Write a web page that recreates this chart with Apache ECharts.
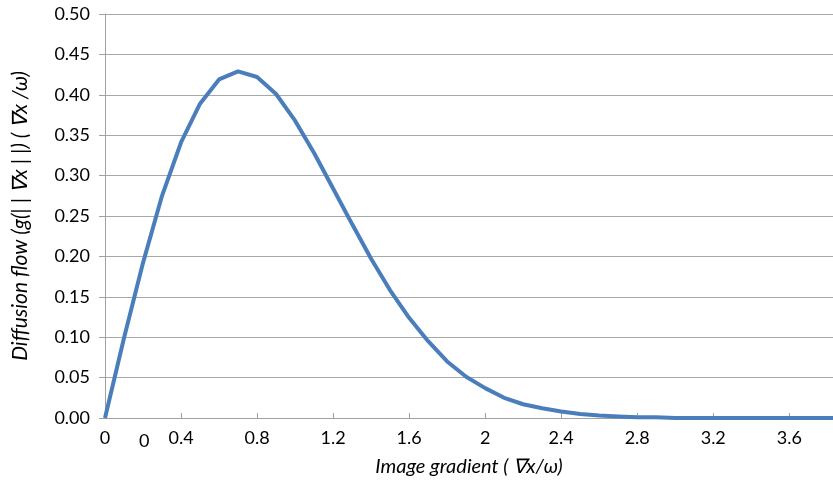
<!DOCTYPE html>
<html>
<head>
<meta charset="utf-8">
<script src="https://cdn.jsdelivr.net/npm/echarts@6/dist/echarts.min.js"></script>
<style>html,body{margin:0;padding:0;background:#fff}#c{width:833px;height:485px}</style>
</head>
<body>
<div id="c"></div>
<script>
const gradient = [0,0.1,0.2,0.3,0.4,0.5,0.6,0.7,0.8,0.9,1.0,1.1,1.2,1.3,1.4,1.5,1.6,1.7,1.8,1.9,2.0,2.1,2.2,2.3,2.4,2.5,2.6,2.7,2.8,2.9,3.0,3.1,3.2,3.3,3.4,3.5,3.6,3.7,3.8,3.9];
const flow = [0,0.099,0.192,0.275,0.341,0.389,0.419,0.429,0.422,0.401,0.368,0.328,0.284,0.240,0.197,0.158,0.124,0.095,0.070,0.051,0.037,0.025,0.017,0.012,0.008,0.005,0.003,0.002,0.001,0.001,0.000,0,0,0,0,0,0,0,0,0];
const xTitle = 'Image gradient ( \u2207x/\u03c9)';
const yTitle = 'Diffusion flow (g(| | \u2207x | |) ( \u2207x /\u03c9)';
const strayLabel = '0';

const FONT = 'Lato, "Open Sans", sans-serif';
const chart = echarts.init(document.getElementById('c'));
chart.setOption({
  animation: false,
  grid: {left: 105, right: 0, top: 14, bottom: 67, containLabel: false},
  xAxis: {
    type: 'value', min: 0, max: 3.83, interval: 0.4,
    name: xTitle, nameLocation: 'middle', nameGap: 39,
    nameTextStyle: {fontFamily: FONT, fontSize: 20, fontStyle: 'italic', color: '#000'},
    axisLine: {lineStyle: {color: '#a0a0a0', width: 1}},
    axisTick: {show: true, inside: true, length: 5, lineStyle: {color: '#a0a0a0'}},
    axisLabel: {showMaxLabel: false, margin: 11, fontFamily: FONT, fontSize: 18, color: '#000',
      formatter: v => Number(v.toFixed(1)).toString()},
    splitLine: {show: false}
  },
  yAxis: {
    type: 'value', min: 0, max: 0.5, interval: 0.05,
    name: yTitle, nameLocation: 'middle', nameGap: 74, nameRotate: 90,
    nameTextStyle: {fontFamily: FONT, fontSize: 21, fontStyle: 'italic', color: '#000'},
    axisLine: {show: true, lineStyle: {color: '#a0a0a0', width: 1}},
    axisTick: {show: true, length: 6, lineStyle: {color: '#a0a0a0'}},
    axisLabel: {margin: 15, fontFamily: FONT, fontSize: 18, color: '#000', formatter: v => v.toFixed(2)},
    splitLine: {show: true, lineStyle: {color: '#a8a8a8', width: 1}}
  },
  graphic: [{
    type: 'text', left: 139, top: 432,
    style: {text: strayLabel, font: '18px ' + FONT, fill: '#000'}
  }],
  series: [{
    type: 'line',
    data: gradient.map((g, i) => [g, flow[i]]),
    showSymbol: false,
    lineStyle: {color: '#4a7ebb', width: 4},
    clip: true
  }]
});
</script>
</body>
</html>
